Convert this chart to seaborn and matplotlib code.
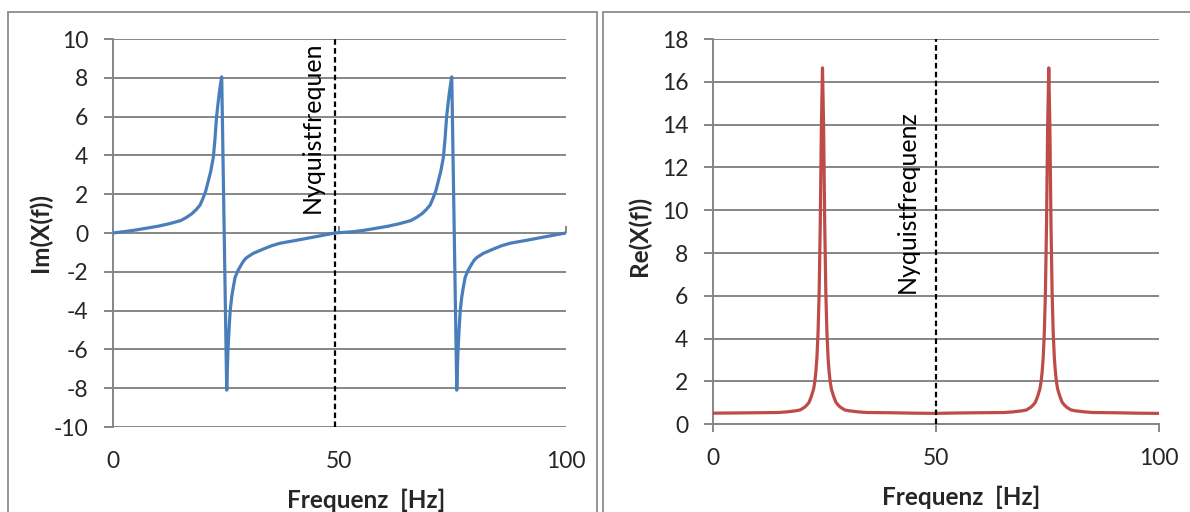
import numpy as np
import pandas as pd
import matplotlib
matplotlib.use("Agg")
import matplotlib.pyplot as plt
from matplotlib.patches import Rectangle
import seaborn as sns

# ---------------- data ----------------
im_freq = [0, 2.5, 5, 7.5, 10, 12.5, 15, 16.25, 17.5, 18.4, 19.3, 20.0, 20.5, 21.0, 21.6,
           22.2, 22.55, 22.9, 23.2, 23.5, 23.8, 24.05, 25.15, 25.4, 25.65, 25.9, 26.25,
           26.6, 27.0, 27.6, 28.45, 29.0, 29.6, 31.0, 33.2, 35.0, 36.9, 38.5, 40, 42.5,
           45, 47, 49,
           53.25, 55.75, 58.25, 60.75, 63.25, 65.75, 67.0, 68.25, 69.15, 70.05, 70.75,
           71.25, 71.75, 72.35, 72.95, 73.3, 73.65, 73.95, 74.25, 74.55, 74.8, 75.9,
           76.15, 76.4, 76.65, 77.0, 77.35, 77.75, 78.35, 79.2, 79.75, 80.35, 81.75,
           83.95, 85.75, 87.65, 89.25, 90.75, 93.25, 95.75, 97.75, 100]
im_vals = [0, 0.07, 0.15, 0.25, 0.35, 0.48, 0.64, 0.8, 1.0, 1.2, 1.45, 1.84, 2.15, 2.6, 3.15,
           3.9, 4.8, 5.96, 6.6, 7.2, 7.7, 8.05, -8.1, -6.2, -5.03, -4.06, -3.3,
           -2.8, -2.29, -1.95, -1.6, -1.4, -1.26, -1.05, -0.83, -0.66, -0.53, -0.46, -0.40, -0.29,
           -0.18, -0.09, 0,
           0.07, 0.15, 0.25, 0.35, 0.48, 0.64, 0.8, 1.0, 1.2, 1.45, 1.84,
           2.15, 2.6, 3.15, 3.9, 4.8, 5.96, 6.6, 7.2, 7.7, 8.05, -8.1,
           -6.2, -5.03, -4.06, -3.3, -2.8, -2.29, -1.95, -1.6, -1.4, -1.26, -1.05,
           -0.83, -0.66, -0.53, -0.46, -0.40, -0.29, -0.18, -0.09, 0]

re_freq = [0, 5, 10, 14.6, 16.6, 18.6, 19.6, 20.6, 21.1, 21.6, 22.1, 22.6, 22.85, 23.1, 23.35,
           23.6, 23.85, 24.1, 24.35, 24.6, 24.85, 25.1, 25.35, 25.6, 25.85, 26.1, 26.35,
           26.6, 27.1, 27.6, 28.1, 28.6, 29.6, 30.6, 32.6, 34.6, 40, 45, 50,
           55, 60, 65.3, 67.3, 69.3, 70.3, 71.3, 71.8, 72.3, 72.8, 73.3, 73.55, 73.8, 74.05,
           74.3, 74.55, 74.8, 75.05, 75.3, 75.55, 75.8, 76.05, 76.3, 76.55, 76.8, 77.05,
           77.3, 77.8, 78.3, 78.8, 79.3, 80.3, 81.3, 83.3, 85.3, 90, 95, 100]
re_vals = [0.52, 0.53, 0.54, 0.55, 0.58, 0.63, 0.67, 0.80, 0.9, 1.03, 1.3, 1.64, 1.95, 2.41, 3.1,
           4.25, 6.15, 9.34, 13.88, 16.65, 13.88, 9.34, 6.15, 4.25, 3.1, 2.41, 1.95,
           1.64, 1.3, 1.03, 0.9, 0.80, 0.67, 0.63, 0.58, 0.55, 0.54, 0.52, 0.51,
           0.53, 0.54, 0.55, 0.58, 0.63, 0.67, 0.80, 0.9, 1.03, 1.3, 1.64, 1.95, 2.41, 3.1,
           4.25, 6.15, 9.34, 13.88, 16.65, 13.88, 9.34, 6.15, 4.25, 3.1, 2.41, 1.95,
           1.64, 1.3, 1.03, 0.9, 0.80, 0.67, 0.63, 0.58, 0.55, 0.54, 0.52, 0.51]

nyquist_left = 49
nyquist_right = 50
x_ticks = [0, 50, 100]
im_yticks = list(range(-10, 11, 2))
re_yticks = list(range(0, 19, 2))
nyquist_label_left = "Nyquistfrequen"
nyquist_label_right = "Nyquistfrequenz"

# ---------------- styling ----------------
sns.set_style("white")
plt.rcParams["font.family"] = ["Lato", "DejaVu Sans"]

GRID = "#868686"
BLUE = "#4A7EBB"
RED = "#BE4B48"
FS_TICK = 16.5
FS_LAB = 17.5
FS_NYQ = 18

W, H = 1190, 512
fig = plt.figure(figsize=(W / 100, H / 100), dpi=100)

# panel borders
fig.add_artist(Rectangle((8.4 / W, -0.1), (597 - 8.4) / W, (H - 11.7) / H + 0.1,
                         transform=fig.transFigure, fill=False, edgecolor="#8c8c8c", lw=1.3))
fig.add_artist(Rectangle((603 / W, -0.1), (1200 - 603) / W, (H - 11.7) / H + 0.1,
                         transform=fig.transFigure, fill=False, edgecolor="#8c8c8c", lw=1.3))

ax1 = fig.add_axes([112.7 / W, (H - 427) / H, 453.3 / W, 388 / H])
ax2 = fig.add_axes([712.7 / W, (H - 424.3) / H, 446.3 / W, 385.3 / H])

df_im = pd.DataFrame({"f": im_freq, "v": im_vals})
df_re = pd.DataFrame({"f": re_freq, "v": re_vals})

sns.lineplot(data=df_im, x="f", y="v", ax=ax1, color=BLUE, lw=2.3, zorder=3)
sns.lineplot(data=df_re, x="f", y="v", ax=ax2, color=RED, lw=2.3, zorder=3)


def style(ax, ylim, yticks, xaxis_at_zero):
    ax.set_xlim(0, 100)
    ax.set_ylim(*ylim)
    ax.set_yticks(yticks)
    ax.set_xticks(x_ticks)
    ax.set_yticklabels([str(t) for t in yticks])
    ax.set_xticklabels([str(t) for t in x_ticks])
    ax.grid(axis="y", color=GRID, lw=1.4, zorder=0)
    ax.grid(axis="x", visible=False)
    for s in ["top", "right"]:
        ax.spines[s].set_visible(False)
    ax.spines["left"].set_color(GRID)
    ax.spines["left"].set_linewidth(1.4)
    ax.tick_params(axis="y", direction="out", length=6.5, width=1.4, color=GRID,
                   labelsize=FS_TICK, pad=11, left=True)
    if xaxis_at_zero:
        ax.spines["bottom"].set_visible(False)
        ax.tick_params(axis="x", length=0, labelsize=FS_TICK, pad=17, bottom=True)
        frac = (0 - ylim[0]) / (ylim[1] - ylim[0])
        sec = ax.secondary_xaxis(frac)
        sec.set_xticks(x_ticks)
        sec.tick_params(axis="x", direction="out", length=5, width=1.4, color=GRID,
                        labelbottom=False, labeltop=False)
        sec.spines["bottom"].set_visible(False)
        sec.spines["top"].set_visible(False)
    else:
        ax.spines["bottom"].set_color(GRID)
        ax.spines["bottom"].set_linewidth(1.4)
        ax.tick_params(axis="x", direction="out", length=6, width=1.4, color=GRID,
                       labelsize=FS_TICK, pad=11, bottom=True)
    ax.set_xlabel("Frequenz  [Hz]", fontsize=FS_LAB, fontweight="bold")
    ax.xaxis.label.set_va("center")


style(ax1, (-10, 10), im_yticks, True)
style(ax2, (0, 18), re_yticks, False)

ax1.set_ylabel("Im(X(f))", fontsize=FS_LAB, fontweight="bold")
ax2.set_ylabel("Re(X(f))", fontsize=FS_LAB, fontweight="bold")
ax1.yaxis.label.set_va("center")
ax2.yaxis.label.set_va("center")
ax1.yaxis.set_label_coords(-0.160, 0.50)
ax2.yaxis.set_label_coords(-0.165, 0.49)
ax1.xaxis.set_label_coords(0.559, -0.19)
ax2.xaxis.set_label_coords(0.556, -0.19)

ax1.axvline(nyquist_left, color="black", lw=1.6, ls=(0, (2.5, 1.5)), zorder=4)
ax2.axvline(nyquist_right, color="black", lw=1.6, ls=(0, (2.5, 1.5)), zorder=4)

ax1.text(44.0, 1.03, nyquist_label_left, rotation=90, ha="center", va="bottom",
         fontsize=FS_NYQ, color="black", zorder=5)
ax2.text(43.7, 6.14, nyquist_label_right, rotation=90, ha="center", va="bottom",
         fontsize=FS_NYQ, color="black", zorder=5)

fig.savefig("out.png", dpi=100)
